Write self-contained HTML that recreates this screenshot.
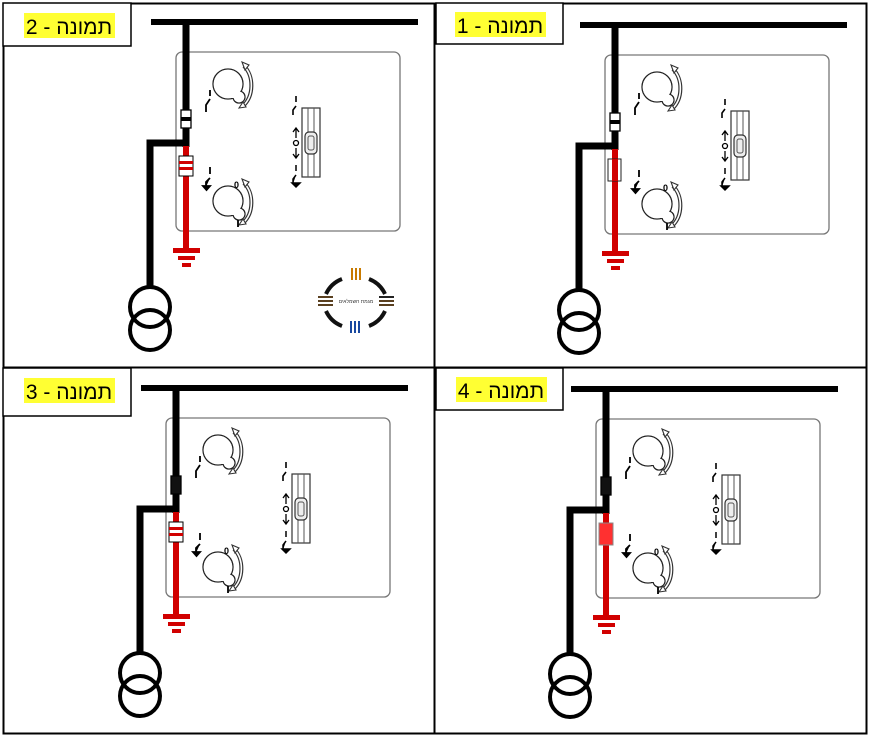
<!DOCTYPE html>
<html><head><meta charset="utf-8"><style>
html,body{margin:0;padding:0;background:#fff;}
svg{display:block;}
text{font-family:"Liberation Sans","Noto Sans CJK SC",sans-serif;}
</style></head><body>
<svg width="871" height="738" viewBox="0 0 871 738" xmlns="http://www.w3.org/2000/svg">
<defs>
<g id="knob">
  <circle cx="228" cy="84" r="15" fill="#fff" stroke="#222" stroke-width="1.3"/>
  <circle cx="239" cy="97" r="6" fill="#fff" stroke="#222" stroke-width="1.3"/>
  <circle cx="228" cy="84" r="14.3" fill="#fff"/>
  <circle cx="239" cy="97" r="5.3" fill="#fff"/>
  <rect x="230" y="90" width="8" height="8" fill="#fff"/>
  <path d="M244 66 C254 76 254 96 243 106" fill="none" stroke="#333" stroke-width="4"/>
  <path d="M244 66 C254 76 254 96 243 106" fill="none" stroke="#fff" stroke-width="1.6"/>
  <path d="M242 62 l7 3 l-4 5 Z M239 108 l7 -1 l-3 -5 Z" fill="#fff" stroke="#333" stroke-width="1.1"/>
</g>
<g id="base">
  <rect x="176" y="52" width="224" height="179" rx="6" fill="none" stroke="#777" stroke-width="1.3"/>
  <line x1="151" y1="22" x2="418" y2="22" stroke="#000" stroke-width="6"/>
  <line x1="186" y1="22" x2="186" y2="147" stroke="#000" stroke-width="7"/>
  <polyline points="186,143 150,143 150,288" fill="none" stroke="#000" stroke-width="7"/>
  <line x1="186" y1="146" x2="186" y2="252" stroke="#d10000" stroke-width="6"/>
  <rect x="173" y="248" width="27" height="5" fill="#d10000"/>
  <rect x="178" y="256" width="17" height="4" fill="#d10000"/>
  <rect x="182" y="263" width="9" height="4" fill="#d10000"/>
  <circle cx="150" cy="307" r="20" fill="none" stroke="#000" stroke-width="4"/>
  <circle cx="150" cy="330" r="20" fill="none" stroke="#000" stroke-width="4"/>
  <use href="#knob"/>
  <path d="M210 90 v6 M210 99 l-4 6 v7" fill="none" stroke="#000" stroke-width="1.8"/>
  <use href="#knob" transform="translate(0,117)"/>
  <text x="234" y="188" font-size="9" font-weight="bold">0</text>
  <path d="M238 220 v7" stroke="#000" stroke-width="1.8"/>
  <path d="M210 167 v7 M210 178 l-4 4 v5 M203 186 h7 l-3.5 4 Z" fill="#000" stroke="#000" stroke-width="1.8"/>
  <rect x="302" y="108" width="18" height="69" fill="#fff" stroke="#333" stroke-width="1.2"/>
  <line x1="308" y1="108" x2="308" y2="177" stroke="#555" stroke-width="1"/>
  <line x1="314" y1="108" x2="314" y2="177" stroke="#555" stroke-width="1"/>
  <rect x="305" y="132" width="12" height="22" rx="4" fill="#eee" stroke="#333" stroke-width="1.2"/>
  <rect x="308" y="136" width="6" height="14" rx="2" fill="none" stroke="#555" stroke-width="1"/>
  <path d="M296 96 v6 M296 106 l-3 4 v5" fill="none" stroke="#000" stroke-width="1.6"/>
  <path d="M296 128 v10 M293 132 l3 -4 l3 4" fill="none" stroke="#000" stroke-width="1.3"/>
  <circle cx="296" cy="143" r="2.5" fill="none" stroke="#000" stroke-width="1.3"/>
  <path d="M296 148 v10 M293 154 l3 4 l3 -4" fill="none" stroke="#000" stroke-width="1.3"/>
  <path d="M296 165 v6 M296 175 l-3 4 v5 M292 183 h8 l-4 4 Z" fill="#000" stroke="#000" stroke-width="1.5"/>
</g>
<g id="insW"><rect x="181" y="110" width="10" height="18" fill="#fff" stroke="#000" stroke-width="1.3"/><rect x="181" y="117" width="10" height="4" fill="#000"/></g>
<g id="insB"><rect x="181" y="110" width="10" height="18" fill="#111" stroke="#000" stroke-width="1.3"/></g>
</defs>

<rect x="3.5" y="3.5" width="863" height="730" fill="none" stroke="#000" stroke-width="2"/>
<line x1="434.5" y1="3" x2="434.5" y2="734" stroke="#000" stroke-width="2"/>
<line x1="3" y1="367.5" x2="867" y2="367.5" stroke="#000" stroke-width="2"/>

<g>
  <use href="#base"/>
  <use href="#insW"/>
  <rect x="179" y="156" width="14" height="20" fill="#fff" stroke="#000" stroke-width="1"/>
  <rect x="179" y="161" width="14" height="3" fill="#d10000"/>
  <rect x="179" y="167" width="14" height="3" fill="#d10000"/>
  <g fill="none" stroke="#111" stroke-width="4">
    <path d="M342 279 A29 29 0 0 0 326 294"/>
    <path d="M369 279 A29 29 0 0 1 385 294"/>
    <path d="M326 311 A29 29 0 0 0 342 326"/>
    <path d="M385 311 A29 29 0 0 1 369 326"/>
  </g>
  <rect x="351" y="268" width="2" height="12" fill="#c87a00"/><rect x="355" y="268" width="2" height="12" fill="#c87a00"/><rect x="359" y="268" width="2" height="12" fill="#c87a00"/>
  <rect x="350" y="321" width="2" height="12" fill="#1848a0"/><rect x="354" y="321" width="2" height="12" fill="#1848a0"/><rect x="358" y="321" width="2" height="12" fill="#1848a0"/>
  <rect x="318" y="296" width="15" height="2" fill="#5a4020"/><rect x="318" y="300" width="15" height="2" fill="#5a4020"/><rect x="318" y="304" width="15" height="2" fill="#5a4020"/>
  <rect x="379" y="296" width="15" height="2" fill="#222"/><rect x="379" y="300" width="15" height="2" fill="#5a4020"/><rect x="379" y="304" width="15" height="2" fill="#5a4020"/>
  <text x="356" y="303" font-size="5" text-anchor="middle" fill="#333">מגמת חשמלאים</text>
  <rect x="3" y="3" width="128" height="43" fill="#fff" stroke="#000" stroke-width="1.5"/>
  <rect x="24" y="13" width="91" height="25" fill="#ffff33"/>
  <text x="69" y="34" font-size="21" text-anchor="middle">תמונה - 2</text>
</g>

<g transform="translate(429,3)">
  <use href="#base"/>
  <use href="#insW"/>
  <rect x="179" y="156" width="13" height="22" fill="#fff" stroke="#222" stroke-width="1"/>
  <rect x="183" y="156" width="6" height="22" fill="#d10000"/>
</g>
<rect x="436" y="3" width="127" height="41" fill="#fff" stroke="#000" stroke-width="1.5"/>
<rect x="455" y="12" width="91" height="25" fill="#ffff33"/>
<text x="500" y="33" font-size="21" text-anchor="middle">תמונה - 1</text>

<g transform="translate(-10,366)">
  <use href="#base"/>
  <use href="#insB"/>
  <rect x="179" y="156" width="14" height="20" fill="#fff" stroke="#000" stroke-width="1"/>
  <rect x="179" y="161" width="14" height="3" fill="#d10000"/>
  <rect x="179" y="167" width="14" height="3" fill="#d10000"/>
</g>
<rect x="3" y="368" width="128" height="48" fill="#fff" stroke="#000" stroke-width="1.5"/>
<rect x="24" y="378" width="91" height="25" fill="#ffff33"/>
<text x="69" y="399" font-size="21" text-anchor="middle">תמונה - 3</text>

<g transform="translate(420,367)">
  <use href="#base"/>
  <use href="#insB"/>
  <rect x="179" y="156" width="14" height="22" fill="#ff3030" stroke="#888" stroke-width="1"/>
</g>
<rect x="436" y="368" width="127" height="42" fill="#fff" stroke="#000" stroke-width="1.5"/>
<rect x="456" y="377" width="91" height="25" fill="#ffff33"/>
<text x="501" y="398" font-size="21" text-anchor="middle">תמונה - 4</text>
</svg>
</body></html>
